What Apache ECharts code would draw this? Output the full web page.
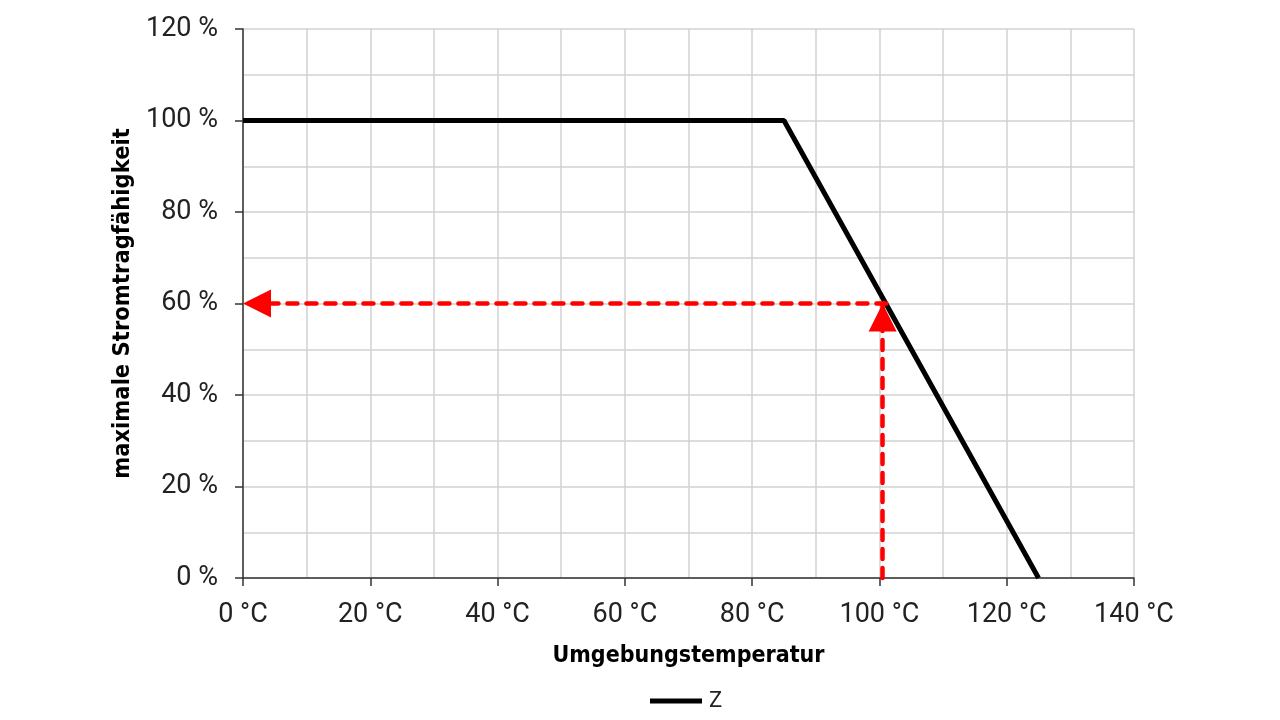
<!DOCTYPE html>
<html>
<head>
<meta charset="utf-8">
<script src="https://cdn.jsdelivr.net/npm/echarts@6/dist/echarts.min.js"></script>
<style>
  html, body { margin: 0; padding: 0; background: #fff; }
  #chart { width: 1280px; height: 720px; }
</style>
</head>
<body>
<div id="chart"></div>
<script>
// derating curve Z
const temps = [0, 85, 125];
const loads = [100, 100, 0];
// example reading
const readTemp = 100.5;
const readLoad = 60;
const xTicks = [0, 20, 40, 60, 80, 100, 120, 140];
const yTicks = [0, 20, 40, 60, 80, 100, 120];

const tickFont = 'Roboto, "Liberation Sans", sans-serif';
const titleFont = '"DejaVu Sans Condensed", "Liberation Sans", sans-serif';
const red = '#ff0000';
const gridColor = '#d2d2d2';

const chart = echarts.init(document.getElementById('chart'));

chart.setOption({
  animation: false,
  grid: { left: 243, right: 146, top: 29, bottom: 142 },
  legend: {
    top: 685,
    left: 645,
    itemWidth: 52,
    itemHeight: 5,
    itemGap: 10,
    textStyle: { fontFamily: tickFont, fontSize: 22, color: '#222', padding: [0, 0, 0, 2] },
    data: [{ name: 'Z', icon: 'rect' }]
  },
  xAxis: {
    type: 'value',
    min: xTicks[0],
    max: xTicks[xTicks.length - 1],
    interval: 20,
    name: 'Umgebungstemperatur',
    nameLocation: 'middle',
    nameGap: 67,
    nameTextStyle: { fontFamily: titleFont, fontSize: 23, fontWeight: 'bold', color: '#000' },
    axisLine: { lineStyle: { color: '#333', width: 1.5 } },
    axisTick: { show: true, length: 8, lineStyle: { color: '#333', width: 1.5 } },
    axisLabel: { fontFamily: tickFont, fontSize: 27, color: '#222', margin: 24, formatter: v => v + ' °C' },
    splitLine: { show: true, lineStyle: { color: gridColor, width: 1.5 } },
    minorTick: { show: false, splitNumber: 2 },
    minorSplitLine: { show: true, lineStyle: { color: gridColor, width: 1.5 } }
  },
  yAxis: {
    type: 'value',
    min: yTicks[0],
    max: yTicks[yTicks.length - 1],
    interval: 20,
    name: 'maximale Stromtragfähigkeit',
    nameLocation: 'middle',
    nameGap: 105,
    nameRotate: 90,
    nameTextStyle: { fontFamily: titleFont, fontSize: 23.5, fontWeight: 'bold', color: '#000' },
    axisLine: { show: true, lineStyle: { color: '#333', width: 1.5 } },
    axisTick: { show: true, length: 8, lineStyle: { color: '#333', width: 1.5 } },
    axisLabel: { fontFamily: tickFont, fontSize: 27, color: '#222', margin: 25, formatter: v => v + ' %' },
    splitLine: { show: true, lineStyle: { color: gridColor, width: 1.5 } },
    minorTick: { show: false, splitNumber: 2 },
    minorSplitLine: { show: true, lineStyle: { color: gridColor, width: 1.5 } }
  },
  series: [
    {
      name: 'Z',
      type: 'line',
      data: temps.map((t, i) => [t, loads[i]]),
      symbol: 'none',
      color: '#000',
      lineStyle: { color: '#000', width: 5 },
      z: 3
    },
    {
      name: 'reading',
      type: 'line',
      data: [],
      z: 4,
      markLine: {
        silent: true,
        symbol: ['none', 'triangle'],
        symbolSize: [28, 28],
        // push the triangle back so its tip sits on the end point
        symbolOffset: [[0, 0], [0, 14]],
        label: { show: false },
        lineStyle: { color: red, width: 4.5, type: [10, 9], cap: 'round' },
        data: [
          [{ coord: [readTemp + 0.6, readLoad] }, { coord: [0, readLoad] }],
          [{ coord: [readTemp, 0] }, { coord: [readTemp, readLoad] }]
        ]
      }
    }
  ]
});
</script>
</body>
</html>
